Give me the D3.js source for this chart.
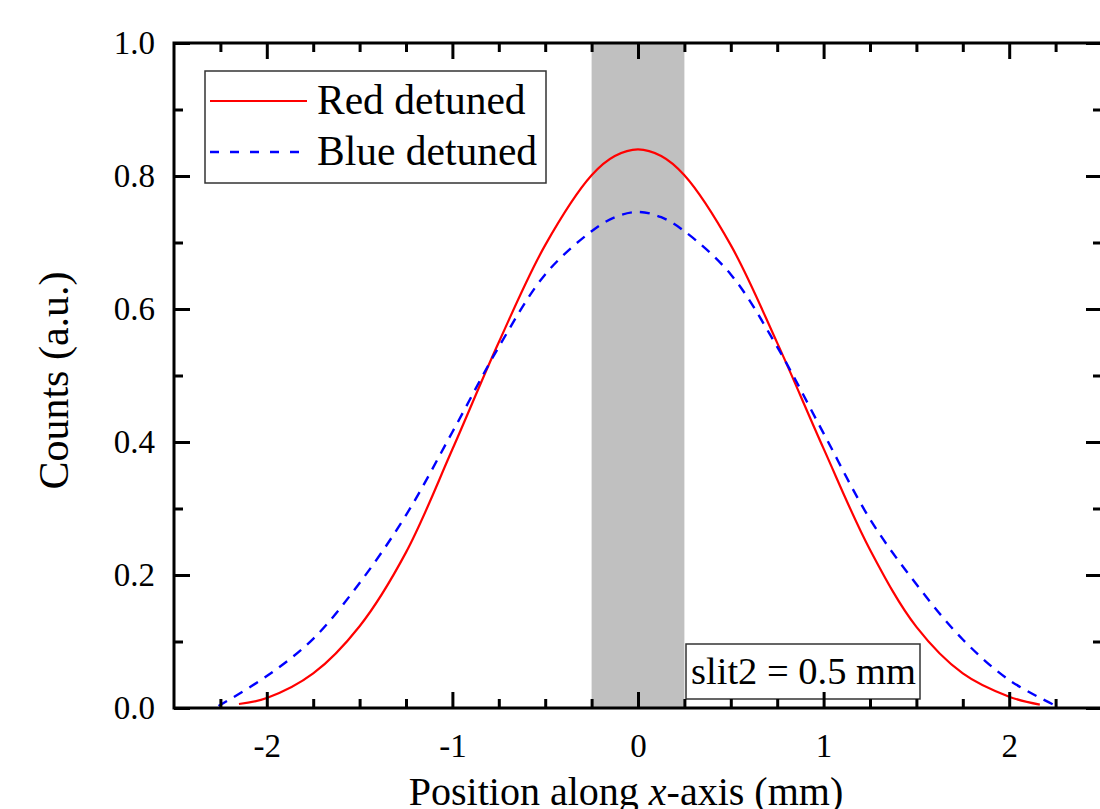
<!DOCTYPE html>
<html lang="en">
<head>
<meta charset="UTF-8" />
<title>Counts vs position</title>
<style>
  body { margin: 0; background: #fff; overflow: hidden; }
  text { font-family: "Liberation Serif", "Times New Roman", serif; fill: #000; }
</style>
</head>
<body>
<script src="https://cdn.jsdelivr.net/npm/d3@7/dist/d3.min.js"></script>
<script>
// values
var redX  = [-2.15, -2.0, -1.75, -1.5, -1.25, -1.0, -0.75, -0.5, -0.25, -0.125, 0, 0.125, 0.25, 0.5, 0.75, 1.0, 1.25, 1.5, 1.75, 2.0, 2.165];
var redY  = [0.006, 0.015, 0.052, 0.123, 0.234, 0.389, 0.550, 0.696, 0.801, 0.830, 0.840, 0.830, 0.801, 0.696, 0.549, 0.390, 0.238, 0.122, 0.052, 0.017, 0.005];
var blueX = [-2.26, -2.0, -1.75, -1.5, -1.25, -1.0, -0.75, -0.5, -0.25, -0.125, 0, 0.125, 0.25, 0.5, 0.75, 1.0, 1.25, 1.5, 1.75, 2.0, 2.246];
var blueY = [0.003, 0.048, 0.104, 0.188, 0.290, 0.415, 0.543, 0.652, 0.717, 0.738, 0.746, 0.738, 0.717, 0.652, 0.543, 0.413, 0.284, 0.186, 0.103, 0.042, 0.004];

var seriesNames = ["Red detuned", "Blue detuned"];
var slitRange = [-0.25, 0.25];
var slitLabel = "slit2 = 0.5 mm";

var xMajor = [-2, -1, 0, 1, 2];
var xMinor = [-2.25, -1.75, -1.5, -1.25, -0.75, -0.5, -0.25, 0.25, 0.5, 0.75, 1.25, 1.5, 1.75, 2.25];
var yMajor = [0, 0.2, 0.4, 0.6, 0.8, 1.0];
var yMinor = [0.1, 0.3, 0.5, 0.7, 0.9];

var W = 1100, H = 809;
// plot box (right edge sits just outside the window, as in the original)
var pL = 174, pR = 1102, pT = 43, pB = 708;

var svg = d3.select("body").append("svg")
  .attr("width", W)
  .attr("height", H);

var x = d3.scaleLinear().domain([-2.5, 2.5]).range([pL, pR]);
var y = d3.scaleLinear().domain([0, 1]).range([pB, pT]);

// grey slit band
svg.append("rect")
  .attr("x", x(slitRange[0]))
  .attr("y", y(1))
  .attr("width", x(slitRange[1]) - x(slitRange[0]))
  .attr("height", y(0) - y(1))
  .attr("fill", "#c0c0c0");

// the two curves
var red = redX.map(function(d, i) { return [d, redY[i]]; });
var blue = blueX.map(function(d, i) { return [d, blueY[i]]; });

var line = d3.line()
  .x(function(d) { return x(d[0]); })
  .y(function(d) { return y(d[1]); })
  .curve(d3.curveCatmullRom.alpha(0.5));

svg.append("path").datum(red)
  .attr("d", line)
  .attr("fill", "none")
  .attr("stroke", "#ff0000")
  .attr("stroke-width", 2.2);

svg.append("path").datum(blue)
  .attr("d", line)
  .attr("fill", "none")
  .attr("stroke", "#0000ff")
  .attr("stroke-width", 2.4)
  .attr("stroke-dasharray", "10,8");

// slit annotation box
var sg = svg.append("g");
sg.append("rect")
  .attr("x", 686).attr("y", 644)
  .attr("width", 234).attr("height", 55)
  .attr("fill", "#fff")
  .attr("stroke", "#333")
  .attr("stroke-width", 1.5);
sg.append("text")
  .attr("x", 691).attr("y", 684)
  .style("font-size", "38.5px")
  .text(slitLabel);

// axes, ticks point inward
function styleAxis(g) {
  g.select(".domain").remove();
  g.selectAll(".tick line").attr("stroke", "#000").attr("stroke-width", 3);
  g.selectAll(".tick text").style("font-family", "'Liberation Serif', 'Times New Roman', serif")
    .style("font-size", "33px").attr("fill", "#000");
}

function fmtX(d) { return d < 0 ? "-" + Math.abs(d) : "" + d; }

svg.append("g").attr("transform", "translate(0," + pB + ")")
  .call(d3.axisBottom(x).tickValues(xMajor).tickSizeInner(-16).tickSizeOuter(0).tickPadding(26).tickFormat(fmtX))
  .call(styleAxis);
svg.append("g").attr("transform", "translate(0," + pB + ")")
  .call(d3.axisBottom(x).tickValues(xMinor).tickSizeInner(-9).tickSizeOuter(0).tickFormat(""))
  .call(styleAxis);
svg.append("g").attr("transform", "translate(0," + pT + ")")
  .call(d3.axisTop(x).tickValues(xMajor).tickSizeInner(-16).tickSizeOuter(0).tickFormat(""))
  .call(styleAxis);
svg.append("g").attr("transform", "translate(0," + pT + ")")
  .call(d3.axisTop(x).tickValues(xMinor).tickSizeInner(-9).tickSizeOuter(0).tickFormat(""))
  .call(styleAxis);

svg.append("g").attr("transform", "translate(" + pL + ",0)")
  .call(d3.axisLeft(y).tickValues(yMajor).tickSizeInner(-16).tickSizeOuter(0).tickPadding(19).tickFormat(d3.format(".1f")))
  .call(styleAxis);
svg.append("g").attr("transform", "translate(" + pL + ",0)")
  .call(d3.axisLeft(y).tickValues(yMinor).tickSizeInner(-9).tickSizeOuter(0).tickFormat(""))
  .call(styleAxis);
svg.append("g").attr("transform", "translate(" + pR + ",0)")
  .call(d3.axisRight(y).tickValues(yMajor).tickSizeInner(-16).tickSizeOuter(0).tickFormat(""))
  .call(styleAxis);
svg.append("g").attr("transform", "translate(" + pR + ",0)")
  .call(d3.axisRight(y).tickValues(yMinor).tickSizeInner(-9).tickSizeOuter(0).tickFormat(""))
  .call(styleAxis);

// frame
svg.append("rect")
  .attr("x", pL).attr("y", pT)
  .attr("width", pR - pL).attr("height", pB - pT)
  .attr("fill", "none")
  .attr("stroke", "#000")
  .attr("stroke-width", 3);

// axis titles
svg.append("text")
  .attr("transform", "translate(68," + ((pT + pB) / 2 + 5) + ") rotate(-90)")
  .attr("text-anchor", "middle")
  .style("font-size", "42px")
  .text("Counts (a.u.)");

var xt = svg.append("text")
  .attr("x", 626).attr("y", 805)
  .attr("text-anchor", "middle")
  .style("font-size", "40px");
xt.append("tspan").text("Position along ");
xt.append("tspan").style("font-style", "italic").text("x");
xt.append("tspan").text("-axis (mm)");

// legend
var lg = svg.append("g");
lg.append("rect")
  .attr("x", 205).attr("y", 71)
  .attr("width", 341).attr("height", 112)
  .attr("fill", "#fff")
  .attr("stroke", "#333")
  .attr("stroke-width", 1.5);

var legendStyles = [
  { color: "#ff0000", dash: null, w: 2.2 },
  { color: "#0000ff", dash: "9,11", w: 2.4 }
];
seriesNames.forEach(function(name, i) {
  var ly = 101 + i * 51;
  lg.append("line")
    .attr("x1", 210).attr("x2", 307)
    .attr("y1", ly).attr("y2", ly)
    .attr("stroke", legendStyles[i].color)
    .attr("stroke-width", legendStyles[i].w)
    .attr("stroke-dasharray", legendStyles[i].dash);
  lg.append("text")
    .attr("x", 317).attr("y", ly + 13)
    .style("font-size", "41.5px")
    .text(name);
});
</script>
</body>
</html>
